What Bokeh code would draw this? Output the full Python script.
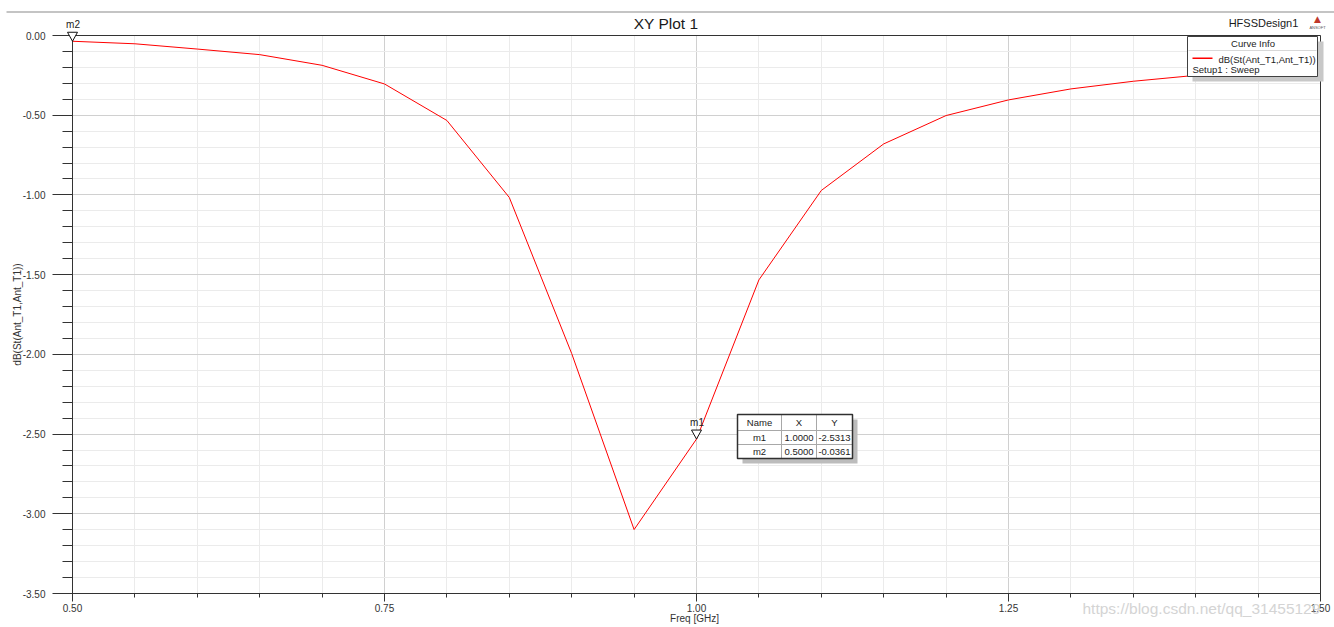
from bokeh.plotting import figure
from bokeh.models import (Range1d, FixedTicker, PrintfTickFormatter, Label,
                          BoxAnnotation, PolyAnnotation, Grid)
from bokeh.embed import file_html
from bokeh.resources import INLINE

# ---------------- data ----------------
freq_ghz = [0.50, 0.55, 0.60, 0.65, 0.70, 0.75, 0.80, 0.85, 0.90, 0.95, 1.00,
            1.05, 1.10, 1.15, 1.20, 1.25, 1.30, 1.35, 1.40, 1.45, 1.50]
s11_db = [-0.0361, -0.052, -0.085, -0.120, -0.187, -0.304, -0.533, -1.016,
          -1.995, -3.099, -2.5313, -1.533, -0.972, -0.680, -0.502, -0.404,
          -0.335, -0.287, -0.250, -0.220, -0.195]
x_major_ticks = [0.50, 0.75, 1.00, 1.25, 1.50]
x_minor_ticks = freq_ghz
y_major_ticks = [0.0, -0.5, -1.0, -1.5, -2.0, -2.5, -3.0, -3.5]
y_minor_ticks = [round(-0.1 * i, 1) for i in range(36)]
marker_names = ["m1", "m2"]
marker_freq = [1.0, 0.5]
marker_db = [-2.5313, -0.0361]
table_header = ["Name", "X", "Y"]
curve_name = "dB(St(Ant_T1,Ant_T1))"
setup_name = "Setup1 : Sweep"
legend_title = "Curve Info"
plot_title = "XY Plot 1"
design_name = "HFSSDesign1"
x_label = "Freq [GHz]"
watermark = "https://blog.csdn.net/qq_31455129"

FONT = "Liberation Sans"

# ---------------- layout (page pixels) ----------------
X0, X1 = 0.5, 1.5
Y0, Y1 = -3.5, 0.0
W, H = 1334, 627
fx0, fx1 = 72, 1320      # where X0 / X1 sit
fy0, fy1 = 35, 593       # where Y1 / Y0 sit


def dx(px):
    return X0 + (px - fx0) * (X1 - X0) / (fx1 - fx0)


def dy(py):
    return Y1 - (py - fy0) * (Y1 - Y0) / (fy1 - fy0)


def sx(npx):
    return npx * (X1 - X0) / (fx1 - fx0)


def sy(npx):
    return npx * (Y1 - Y0) / (fy1 - fy0)


# the frame covers the whole canvas; axes are pinned at the data edges
p = figure(width=W, height=H, x_range=Range1d(dx(0), dx(W)),
           y_range=Range1d(dy(H), dy(0)), output_backend="svg",
           toolbar_location=None, title=None, min_border=0,
           background_fill_color="white", border_fill_color="white")
p.outline_line_color = None

xa = p.xaxis[0]
xa.fixed_location = Y0
xa.bounds = (X0, X1)
xa.ticker = FixedTicker(ticks=x_major_ticks, minor_ticks=x_minor_ticks)
xa.formatter = PrintfTickFormatter(format="%.2f")
xa.major_tick_out = 8
xa.major_tick_in = 0
xa.minor_tick_out = 4
xa.minor_tick_in = 0
xa.major_label_standoff = 2
ya = p.yaxis[0]
ya.fixed_location = X0
ya.bounds = (Y0, Y1)
ya.ticker = FixedTicker(ticks=y_major_ticks, minor_ticks=y_minor_ticks)
ya.formatter = PrintfTickFormatter(format="%.2f")
ya.major_tick_out = 20
ya.major_tick_in = 0
ya.minor_tick_out = 10
ya.minor_tick_in = 0
ya.major_label_standoff = 7
ya.axis_label = curve_name
ya.axis_label_standoff = -3
ya.axis_label_text_font = FONT
ya.axis_label_text_font_size = "10px"
ya.axis_label_text_font_style = "normal"
ya.axis_label_text_color = "#333333"
for ax in (xa, ya):
    ax.axis_line_color = "#333333"
    ax.major_tick_line_color = "#333333"
    ax.minor_tick_line_color = "#333333"
    ax.major_label_text_font = FONT
    ax.major_label_text_font_size = "10px"
    ax.major_label_text_color = "#333333"

p.xgrid.ticker = xa.ticker
p.ygrid.ticker = ya.ticker
p.xgrid.bounds = (X0, X1)
p.ygrid.bounds = (Y0, Y1)
has_cross = "cross_bounds" in Grid.properties()
if has_cross:
    p.xgrid.cross_bounds = (Y0, Y1)
    p.ygrid.cross_bounds = (X0, X1)
for g in (p.xgrid, p.ygrid):
    g.grid_line_color = "#d0d0d0"
    g.grid_line_width = 1
    g.minor_grid_line_color = "#ebebeb"
    g.minor_grid_line_width = 1
if not has_cross:
    p.xgrid.visible = False
    p.ygrid.visible = False
    p.segment(x0=x_minor_ticks, x1=x_minor_ticks, y0=Y0, y1=Y1,
              line_color="#ebebeb")
    p.segment(x0=X0, x1=X1, y0=y_minor_ticks, y1=y_minor_ticks,
              line_color="#ebebeb")
    p.segment(x0=x_major_ticks, x1=x_major_ticks, y0=Y0, y1=Y1,
              line_color="#d0d0d0")
    p.segment(x0=X0, x1=X1, y0=y_major_ticks, y1=y_major_ticks,
              line_color="#d0d0d0")

# curve
p.line(freq_ghz, s11_db, line_color="#ff0000", line_width=1)


def label(x, y, text, size="10px", align="center", baseline="middle",
          color="#222222", font=FONT):
    lb = Label(x=x, y=y, text=text, text_font=font, text_font_size=size,
               text_align=align, text_baseline=baseline, text_color=color)
    p.add_layout(lb)
    return lb


def box(l, r, t, b, fill=None, line=None, lw=1):
    bx = BoxAnnotation(left=dx(l), right=dx(r), top=dy(t), bottom=dy(b),
                       fill_color=fill, fill_alpha=1.0 if fill else 0.0,
                       line_color=line, line_width=lw,
                       line_alpha=1.0 if line else 0.0)
    p.add_layout(bx)
    return bx


# plot frame outline
p.add_layout(BoxAnnotation(left=X0, right=X1, bottom=Y0, top=Y1,
                           fill_alpha=0.0, line_color="#333333",
                           line_alpha=1.0, line_width=1))

# header rule, titles and logo
box(6, W, 11, 12, fill="#8a8a8a")
label(dx(665.5), dy(22.5), plot_title, size="15.5px", color="#1a1a1a")
label(dx(1263), dy(22.5), design_name, size="11px", color="#1a1a1a")
label(dx(1317), dy(18.5), "\u25b2", size="9px", color="#c0392b",
      font="DejaVu Sans")
label(dx(1317), dy(26.5), "ANSOFT", size="4px", color="#555555")

# x axis title and watermark
label(dx(694), dy(618), x_label, size="10px", color="#333333")
label(dx(1082), dy(608), watermark, size="15.5px", align="left",
      color="#d4d4d4")

# markers on the curve (triangle tip on the point, name above)
for name, mx, my in zip(marker_names, marker_freq, marker_db):
    tri = PolyAnnotation(xs=[mx - sx(5), mx + sx(5), mx],
                         ys=[my + sy(9), my + sy(9), my],
                         fill_color="white", fill_alpha=1.0,
                         line_color="#111111", line_alpha=1.0, line_width=1)
    p.add_layout(tri)
    label(mx + sx(0.5), my + sy(16.5), name, size="10px")

# curve info legend
box(1192, 1323, 41, 81, fill="#c8c8c8")
box(1187, 1317, 36, 76, fill="white", line="#404040", lw=1)
box(1188, 1316, 49.5, 50.5, fill="#d8d8d8")
label(dx(1252.5), dy(43), legend_title, size="9.5px")
box(1192, 1212, 57, 58.5, fill="#ff0000")
label(dx(1218), dy(58.5), curve_name, size="9.5px", align="left")
label(dx(1192), dy(68.5), setup_name, size="9.5px", align="left")

# marker table
col_edges = [737, 781, 816, 852]
row_edges = [414, 430, 444, 458]
box(col_edges[0] + 5, col_edges[-1] + 5, row_edges[0] + 5, row_edges[-1] + 5,
    fill="#bcbcbc")
box(col_edges[0], col_edges[-1], row_edges[0], row_edges[-1], fill="white")
for c in col_edges[1:-1]:
    box(c - 0.5, c + 0.5, row_edges[0], row_edges[-1], fill="#a8a8a8")
for r in row_edges[1:-1]:
    box(col_edges[0], col_edges[-1], r - 0.5, r + 0.5, fill="#a8a8a8")
box(col_edges[0], col_edges[-1], row_edges[0], row_edges[-1], line="#303030",
    lw=1.5)
rows = [table_header] + [[n, f"{fx:.4f}", f"{fy:.4f}"]
                         for n, fx, fy in zip(marker_names, marker_freq, marker_db)]
for ri, row in enumerate(rows):
    cy = (row_edges[ri] + row_edges[ri + 1]) / 2
    for ci, txt in enumerate(row):
        cx = (col_edges[ci] + col_edges[ci + 1]) / 2
        label(dx(cx), dy(cy), txt, size="9.5px")

open("out.html", "w").write(file_html(p, INLINE))
